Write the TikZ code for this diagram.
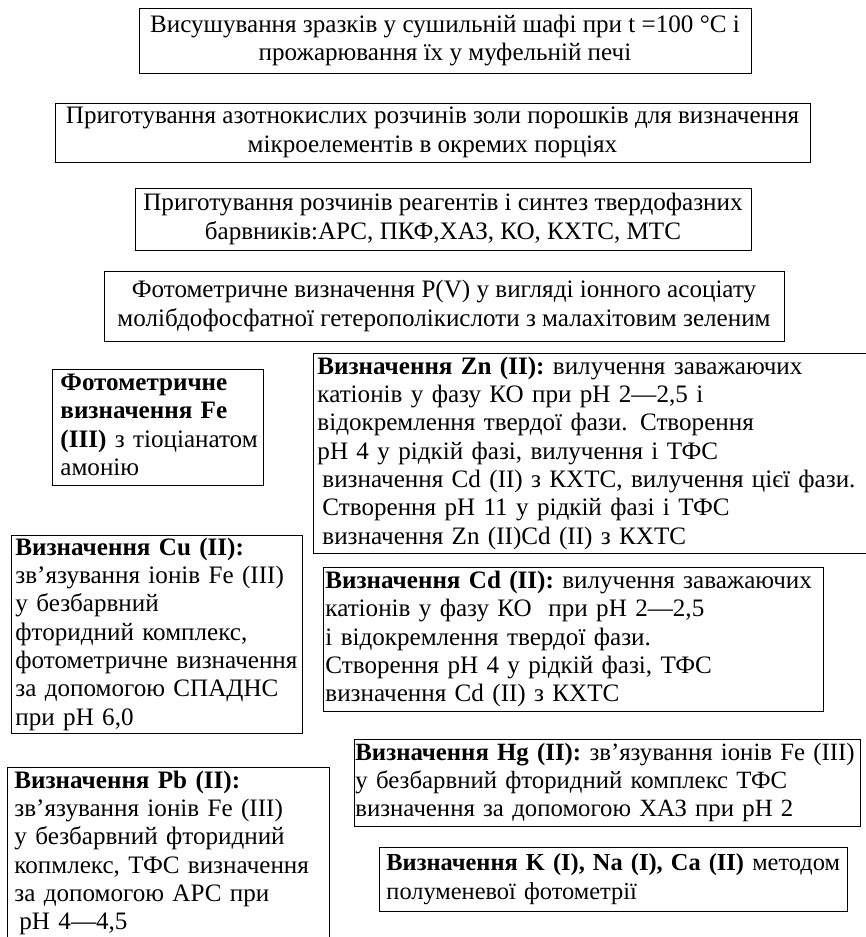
\documentclass[tikz,border=0pt]{standalone}
\usepackage{fontspec}
\setmainfont{Liberation Serif}
\usepackage{tikz}

\newcommand{\boxlines}[1]{\begin{tabular}{@{}l@{}}#1\end{tabular}}
\tikzset{
	banner/.style={draw, line width=0.9pt, inner sep=0pt, align=center},
	card/.style={draw, line width=0.9pt, anchor=north west, inner xsep=4pt, inner ysep=0pt, align=left},
}

\begin{document}
\begin{tikzpicture}[x=1pt,y=-1pt,every node/.style={font=\fontsize{25.1}{28.3}\selectfont}]
	\useasboundingbox (0,0) rectangle (866,937);
	\node[banner,minimum width=612,minimum height=65] (drying) at (445,40.5) {Висушування зразків у сушильній шафі при t =100 °C і\\прожарювання їх у муфельній печі};
	\node[banner,minimum width=755,minimum height=59] (ashsol) at (432.5,132.5) {Приготування азотнокислих розчинів золи порошків для визначення\\мікроелементів в окремих порціях};
	\node[banner,minimum width=616,minimum height=62] (reagents) at (443,219) {Приготування розчинів реагентів і синтез твердофазних\\барвників:АРС, ПКФ,ХАЗ, КО, КХТС, МТС};
	\node[banner,minimum width=680,minimum height=70] (phosph) at (444,306) {Фотометричне визначення P(V) у вигляді іонного асоціату\\молібдофосфатної гетерополікислоти з малахітовим зеленим};
	\node[card,text width=195,inner xsep=8pt,minimum height=116] (iron) at (52,369) {\boxlines{\textbf{Фотометричне}\\\textbf{визначення Fe}\\\textbf{(III)} з тіоціанатом\\амонію}};
	\node[card,text width=555,minimum height=200] (zinc) at (313,353) {\boxlines{\textbf{Визначення Zn (II):} вилучення заважаючих\\катіонів у фазу КО при pH 2—2,5 і\\відокремлення твердої фази. Створення\\pH 4 у рідкій фазі, вилучення і ТФС\\\hspace*{5pt}визначення Cd (II) з КХТС, вилучення цієї фази.\\\hspace*{5pt}Створення pH 11 у рідкій фазі і ТФС\\\hspace*{5pt}визначення Zn (II)Cd (II) з КХТС}};
	\node[card,text width=283,minimum height=198] (copper) at (11,535) {\boxlines{\textbf{Визначення Cu (II):}\\зв’язування іонів Fe (III)\\у безбарвний\\фторидний комплекс,\\фотометричне визначення\\за допомогою СПАДНС\\при pH 6,0}};
	\node[card,text width=496,inner xsep=2pt,minimum height=144] (cadmium) at (323,567) {\boxlines{\textbf{Визначення Cd (II):} вилучення заважаючих\\катіонів у фазу КО\ \ при pH 2—2,5\\і відокремлення твердої фази.\\Створення pH 4 у рідкій фазі, ТФС\\визначення Cd (II) з КХТС}};
	\node[card,text width=504,inner xsep=1pt,minimum height=87,font=\fontsize{24.8}{28.3}\selectfont] (mercury) at (354,739) {\boxlines{\textbf{Визначення Hg (II):} зв’язування іонів Fe (III)\\у безбарвний фторидний комплекс ТФС\\визначення за допомогою ХАЗ при pH 2}};
	\node[card,text width=308,inner xsep=7pt,inner ysep=1pt] (lead) at (7,767) {\boxlines{\textbf{Визначення Pb (II):}\\зв’язування іонів Fe (III)\\у безбарвний фторидний\\копмлекс, ТФС визначення\\за допомогою АРС при\\\hspace*{5pt}pH 4—4,5}\\[4pt]};
	\node[card,text width=454,inner xsep=7pt,minimum height=64,font=\fontsize{24.4}{28.3}\selectfont] (alkali) at (379,847) {\boxlines{\textbf{Визначення K (I), Na (I), Ca (II)} методом\\полуменевої фотометрії}};
\end{tikzpicture}
\end{document}
